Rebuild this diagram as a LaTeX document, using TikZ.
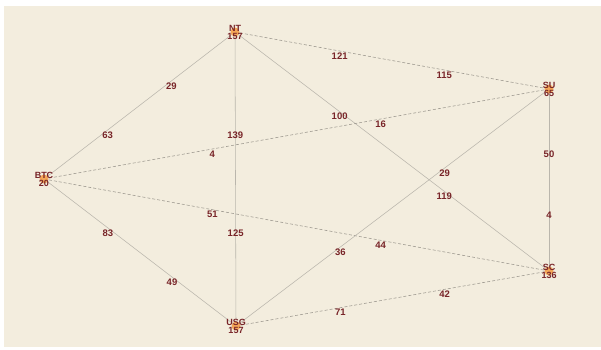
\documentclass[tikz,border=0pt]{standalone}
\usepackage{fontspec}
\setmainfont{Liberation Sans}
\usepackage{tikz}
\definecolor{paperbg}{RGB}{243,237,222}
\definecolor{solidlink}{RGB}{186,182,172}
\definecolor{dashlink}{RGB}{155,150,141}
\definecolor{weightred}{RGB}{120,36,40}
\definecolor{townorange}{RGB}{244,166,88}
\newcommand{\town}[3]{%
  \fill[townorange] (#1) circle[radius=4.5];
  % name sits on the dot, the count just under it
  \node[townname] at ([yshift=3.6pt]#1) {#2};
  \node[townname] at ([yshift=-4.4pt]#1) {#3};
}

\begin{document}
\begin{tikzpicture}[x=1pt,y=-1pt,
    weight/.style={font=\bfseries\fontsize{9.5}{10}\selectfont,text=weightred,inner sep=0pt,yshift=-5pt},
    townname/.style={font=\bfseries\fontsize{9}{10}\selectfont,text=weightred,inner sep=0pt},
    solidedge/.style={solidlink,line width=0.55pt},
    dashedge/.style={dashlink,line width=0.55pt,dash pattern=on 3pt off 2pt}]
    \useasboundingbox (0,0) rectangle (601,349);
    \fill[white] (0,0) rectangle (601,349);
    \fill[paperbg] (4,6) rectangle (601,347);
    \coordinate (NT) at (235,32);
    \coordinate (BTC) at (44,179);
    \coordinate (USG) at (236,326);
    \coordinate (SU) at (549,89);
    \coordinate (SC) at (549,271);
    \draw[dashedge] (NT) -- (SU)
      node[weight,pos=1/3] {121} node[weight,pos=2/3] {115};
    \draw[solidedge] (NT) -- (USG)
      node[weight,pos=1/3] {139} node[weight,pos=2/3] {125};
    \draw[solidedge] (NT) -- (SC)
      node[weight,pos=1/3] {100} node[weight,pos=2/3] {119};
    \draw[solidedge] (NT) -- (BTC)
      node[weight,pos=1/3] {29} node[weight,pos=2/3] {63};
    \draw[dashedge] (BTC) -- (SU)
      node[weight,pos=1/3] {4} node[weight,pos=2/3] {16};
    \draw[dashedge] (BTC) -- (SC)
      node[weight,pos=1/3] {51} node[weight,pos=2/3] {44};
    \draw[solidedge] (BTC) -- (USG)
      node[weight,pos=1/3] {83} node[weight,pos=2/3] {49};
    \draw[solidedge] (USG) -- (SU)
      node[weight,pos=1/3] {36} node[weight,pos=2/3] {29};
    \draw[dashedge] (USG) -- (SC)
      node[weight,pos=1/3] {71} node[weight,pos=2/3] {42};
    \draw[solidedge] (SU) -- (SC)
      node[weight,pos=1/3] {50} node[weight,pos=2/3] {4};
    \town{NT}{NT}{157}
    \town{BTC}{BTC}{20}
    \town{USG}{USG}{157}
    \town{SU}{SU}{65}
    \town{SC}{SC}{136}
  \end{tikzpicture}
\end{document}
